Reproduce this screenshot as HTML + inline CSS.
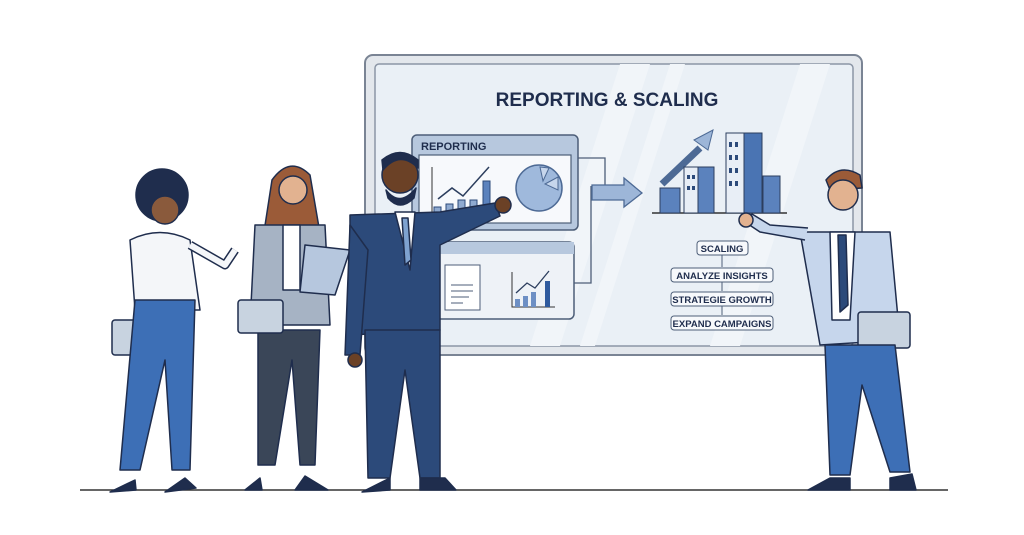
<!DOCTYPE html>
<html><head><meta charset="utf-8"><style>
html,body{margin:0;padding:0;background:#fff}
svg{display:block}
text{font-family:"Liberation Sans",sans-serif;font-weight:bold;fill:#1f2d4d}
</style></head><body>
<svg width="1024" height="535" viewBox="0 0 1024 535" xmlns="http://www.w3.org/2000/svg">
<rect width="1024" height="535" fill="#fff"/>
<!-- board -->
<rect x="365" y="55" width="497" height="300" rx="8" fill="#e3e7ec" stroke="#7a8494" stroke-width="2"/>
<rect x="375" y="64" width="478" height="282" rx="4" fill="#eaf0f6" stroke="#8b95a5" stroke-width="1.5"/>
<path d="M620 64 L650 64 L560 346 L530 346Z M670 64 L685 64 L595 346 L580 346Z M800 64 L830 64 L740 346 L710 346Z" fill="#f1f5f9"/>
<text x="607" y="106" font-size="19" text-anchor="middle">REPORTING &amp; SCALING</text>
<!-- reporting panel -->
<rect x="412" y="135" width="166" height="95" rx="5" fill="#b7c8de" stroke="#4d5e78" stroke-width="1.5"/>
<text x="421" y="150" font-size="11">REPORTING</text>
<rect x="419" y="155" width="152" height="68" fill="#f7f9fc" stroke="#4d5e78" stroke-width="1.2"/>
<path d="M432 167 V213 H500" stroke="#333" fill="none"/>
<rect x="434" y="207" width="7" height="5" fill="#8faad0" stroke="#2c4a7a"/>
<rect x="446" y="204" width="7" height="8" fill="#8faad0" stroke="#2c4a7a"/>
<rect x="458" y="200" width="7" height="12" fill="#8faad0" stroke="#2c4a7a"/>
<rect x="470" y="200" width="7" height="12" fill="#8faad0" stroke="#2c4a7a"/>
<rect x="483" y="181" width="7" height="31" fill="#5b82bd" stroke="#2c4a7a"/>
<path d="M438 199 L452 188 L463 196 L489 167" stroke="#2c3e5e" stroke-width="1.5" fill="none"/>
<circle cx="539" cy="188" r="23" fill="#9fb9dc" stroke="#4d6a95" stroke-width="1.5"/>
<path d="M540 167 L549 168 L543 181Z M545 184 L558 177 L558 190Z" fill="#c6d6ec" stroke="#4d6a95"/>
<rect x="433" y="242" width="141" height="77" rx="5" fill="#eef2f7" stroke="#4d5e78" stroke-width="1.5"/>
<rect x="433" y="242" width="141" height="12" fill="#b7c8de"/>
<rect x="445" y="265" width="35" height="45" fill="#fff" stroke="#4d5e78"/>
<path d="M451 285h22M451 291h22M451 297h18M451 303h12" stroke="#4d5e78"/>
<path d="M512 272 V307 H555" stroke="#333" fill="none"/>
<rect x="515" y="299" width="5" height="8" fill="#6d8fc4"/><rect x="523" y="296" width="5" height="11" fill="#6d8fc4"/><rect x="531" y="292" width="5" height="15" fill="#6d8fc4"/><rect x="545" y="281" width="5" height="26" fill="#2f5a9e"/>
<path d="M516 293 L527 283 L535 288 L549 271" stroke="#2c3e5e" stroke-width="1.3" fill="none"/>
<path d="M578 158 H605 V185 M574 283 H591 V186" stroke="#4d5e78" stroke-width="1.3" fill="none"/>
<path d="M592 185 H624 V178 L642 193 L624 207 V200 H592Z" fill="#9db6d8" stroke="#4d6a95" stroke-width="1.3"/>
<!-- buildings -->
<path d="M652 213 H787" stroke="#333" stroke-width="1.5"/>
<path d="M662 184 L700 148" stroke="#4d6a95" stroke-width="7"/>
<path d="M694 140 L713 130 L708 150Z" fill="#9db6d8" stroke="#4d6a95"/>
<rect x="660" y="188" width="20" height="25" fill="#5b82bd" stroke="#2c3e5e"/>
<rect x="684" y="167" width="30" height="46" fill="#5b82bd" stroke="#2c3e5e"/><rect x="684" y="167" width="14" height="46" fill="#e8eef6" stroke="#2c3e5e"/>
<rect x="726" y="133" width="36" height="80" fill="#4a74b3" stroke="#2c3e5e"/><rect x="726" y="133" width="18" height="80" fill="#e8eef6" stroke="#2c3e5e"/>
<rect x="763" y="176" width="17" height="37" fill="#5b82bd" stroke="#2c3e5e"/>
<g fill="#2c4a7a"><rect x="729" y="142" width="3" height="5"/><rect x="735" y="142" width="3" height="5"/><rect x="729" y="155" width="3" height="5"/><rect x="735" y="155" width="3" height="5"/><rect x="729" y="168" width="3" height="5"/><rect x="735" y="168" width="3" height="5"/><rect x="729" y="181" width="3" height="5"/><rect x="735" y="181" width="3" height="5"/><rect x="687" y="175" width="3" height="4"/><rect x="692" y="175" width="3" height="4"/><rect x="687" y="186" width="3" height="4"/><rect x="692" y="186" width="3" height="4"/></g>
<!-- flow -->
<g font-size="9.5" text-anchor="middle" stroke="#4d5e78">
<rect x="697" y="241" width="51" height="14" rx="3" fill="#f7f9fc"/>
<rect x="671" y="268" width="102" height="14" rx="3" fill="#f7f9fc"/>
<rect x="671" y="292" width="102" height="14" rx="3" fill="#f7f9fc"/>
<rect x="671" y="316" width="102" height="14" rx="3" fill="#f7f9fc"/>
<path d="M722 255V267M722 282V291M722 306V315" fill="none"/>
</g>
<g font-size="9.5" text-anchor="middle"><text x="722" y="252">SCALING</text><text x="722" y="279">ANALYZE INSIGHTS</text><text x="722" y="303">STRATEGIE GROWTH</text><text x="722" y="327">EXPAND CAMPAIGNS</text></g>
<!-- ground -->
<path d="M80 490 H948" stroke="#333" stroke-width="1.5"/>
<g stroke="#1f2d4d" stroke-width="1.5" stroke-linejoin="round">
<!-- woman 1 -->
<circle cx="162" cy="195" r="26" fill="#1f2d4d"/><circle cx="165" cy="210" r="14" fill="#8a5a3c"/>
<path d="M130 240 Q160 225 190 240 L200 310 L135 310Z" fill="#f4f6f9"/>
<path d="M190 245 L225 265 L235 250" fill="none" stroke-width="9" stroke="#1f2d4d"/><path d="M190 245 L225 265 L235 250" fill="none" stroke-width="6" stroke="#f4f6f9"/>
<rect x="112" y="320" width="48" height="35" rx="3" fill="#c8d3e0"/>
<path d="M135 300 L195 300 L190 470 L172 470 L165 360 L140 470 L120 470Z" fill="#3d6fb6"/>
<path d="M110 492 L135 480 L136 490Z M165 492 L185 478 L196 488Z" fill="#1f2d4d"/>
<!-- woman 2 -->
<path d="M272 180 Q290 155 310 175 L322 245 L262 245Z" fill="#9b5b38"/><circle cx="293" cy="190" r="14" fill="#e2b290"/>
<path d="M255 225 L325 225 L330 325 L250 325Z" fill="#a6b3c4"/><path d="M283 225 L300 225 L300 290 L283 290Z" fill="#fff"/>
<path d="M258 330 L320 330 L315 465 L300 465 L292 360 L275 465 L258 465Z" fill="#3a4658"/>
<rect x="238" y="300" width="45" height="33" rx="3" fill="#c8d3e0"/>
<path d="M305 245 L350 250 L335 295 L300 292Z" fill="#b6c7de"/>
<path d="M245 490 L260 478 L262 490Z M295 490 L305 476 L328 490Z" fill="#1f2d4d"/>
<!-- man center -->
<circle cx="400" cy="175" r="18" fill="#6b4126"/><path d="M383 170 Q400 150 418 168 L418 160 Q400 145 382 160Z" fill="#1f2d4d"/><path d="M386 190 Q400 208 416 188 L414 198 Q400 212 388 198Z" fill="#1f2d4d"/>
<path d="M350 215 L440 212 L495 203 L500 216 L440 245 L440 330 L350 335Z" fill="#2c4a7a"/>
<path d="M395 212 L415 212 L410 270Z" fill="#fff"/><path d="M402 218 L408 218 L411 260 L405 265Z" fill="#7ea2d0"/>
<path d="M350 225 L345 355 L360 355 L368 250Z" fill="#2c4a7a"/><circle cx="355" cy="360" r="7" fill="#6b4126"/>
<circle cx="503" cy="205" r="8" fill="#6b4126"/>
<path d="M365 330 L440 330 L440 478 L420 478 L405 370 L390 478 L368 478Z" fill="#2c4a7a"/>
<path d="M362 492 L390 478 L390 490Z M420 478 L445 478 L456 490 L420 490Z" fill="#1f2d4d"/>
<!-- man right -->
<path d="M826 180 Q840 163 860 175 L862 188 L830 190Z" fill="#9b5b38"/><circle cx="843" cy="195" r="15" fill="#e2b290"/>
<path d="M800 232 L890 232 L900 340 L820 345Z" fill="#c6d6ec"/>
<path d="M830 232 L855 232 L850 320 L832 320Z" fill="#fff"/><path d="M838 235 L846 235 L848 305 L840 312Z" fill="#2c4a7a"/>
<path d="M805 240 L760 232 L745 222 L752 214 L770 225 L808 228" fill="#c6d6ec"/><circle cx="746" cy="220" r="7" fill="#e2b290"/>
<rect x="858" y="312" width="52" height="36" rx="3" fill="#c8d3e0"/>
<path d="M825 345 L895 345 L910 472 L890 472 L862 385 L850 475 L830 475Z" fill="#3d6fb6"/>
<path d="M808 490 L830 478 L850 478 L850 490Z M890 478 L912 474 L916 490 L890 490Z" fill="#1f2d4d"/>
</g>
</svg>
</body></html>
